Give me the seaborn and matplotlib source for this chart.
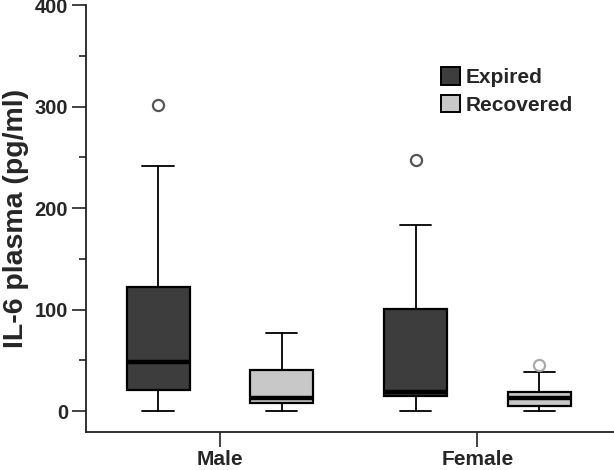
"""
IL-6 plasma levels by sex and outcome, drawn as grouped box plots.
"""

import matplotlib
matplotlib.use("Agg")
import matplotlib.pyplot as plt
from matplotlib.patches import Patch
from matplotlib.ticker import MultipleLocator
import seaborn as sns

# values (pg/ml)
groups = ["Male", "Female"]
outcomes = ["Expired", "Recovered"]
whisker_low = {"Expired": [0, 0], "Recovered": [0, 0]}
q1 = {"Expired": [21, 15], "Recovered": [8, 5]}
median = {"Expired": [48, 19], "Recovered": [13, 13]}
q3 = {"Expired": [122, 101], "Recovered": [40, 19]}
whisker_high = {"Expired": [242, 183], "Recovered": [77, 39]}
outliers = {"Expired": [[302], [247]], "Recovered": [[], [45]]}

box_colors = {"Expired": "#3d3d3d", "Recovered": "#c8c8c8"}
flier_colors = {"Expired": "#555555", "Recovered": "#aaaaaa"}

sns.set_style("ticks")
plt.rcParams["font.family"] = ["Liberation Sans", "DejaVu Sans"]
plt.rcParams["font.weight"] = "bold"

fig = plt.figure(figsize=(6.14, 4.70), dpi=100)
ax = fig.add_axes([0.140, 0.080, 0.86, 0.909])

offset = 0.24
width = 0.245
for k, outcome in enumerate(outcomes):
    stats = []
    for i in range(len(groups)):
        stats.append({
            "whislo": whisker_low[outcome][i],
            "q1": q1[outcome][i],
            "med": median[outcome][i],
            "q3": q3[outcome][i],
            "whishi": whisker_high[outcome][i],
            "fliers": outliers[outcome][i],
        })
    pos = [i + (offset if k else -offset) for i in range(len(groups))]
    ax.bxp(stats, positions=pos, widths=width, capwidths=width / 2,
           patch_artist=True, manage_ticks=False,
           boxprops=dict(facecolor=box_colors[outcome], edgecolor="black",
                         linewidth=1.6),
           medianprops=dict(color="black", linewidth=3.2, solid_capstyle="butt"),
           whiskerprops=dict(color="black", linewidth=1.3),
           capprops=dict(color="black", linewidth=1.3),
           flierprops=dict(marker="o", markersize=8, markerfacecolor="none",
                           markeredgecolor=flier_colors[outcome],
                           markeredgewidth=1.6))

ax.set_xlim(-0.52, 1.53)
ax.set_ylim(-21, 400)
ax.set_xticks(range(len(groups)))
ax.set_xticklabels(groups, fontsize=15, fontweight="bold")
ax.yaxis.set_major_locator(MultipleLocator(100))
ax.yaxis.set_minor_locator(MultipleLocator(50))
ax.tick_params(axis="y", which="major", direction="out", length=10, width=1.2,
               labelsize=14.5, pad=3, color="#222222")
ax.tick_params(axis="y", which="minor", direction="out", length=5, width=1.2,
               color="#222222")
ax.tick_params(axis="x", direction="out", length=11, width=1.2, labelsize=15,
               pad=2, color="#222222")
for lab in ax.get_yticklabels():
    lab.set_fontweight("bold")
ax.set_ylabel("IL-6 plasma (pg/ml)", fontsize=20.5, fontweight="bold",
              labelpad=4)

sns.despine(ax=ax)
for side in ["left", "bottom"]:
    ax.spines[side].set_linewidth(1.3)
    ax.spines[side].set_color("#222222")

handles = [Patch(facecolor=box_colors[o], edgecolor="black", linewidth=1.4,
                 label=o) for o in outcomes]
ax.legend(handles=handles, loc="upper left", bbox_to_anchor=(0.636, 0.899),
          frameon=False, handlelength=0.95, handleheight=0.95,
          handletextpad=0.25, labelspacing=0.35,
          prop={"weight": "bold", "size": 15})

fig.savefig("out.png", dpi=100)
